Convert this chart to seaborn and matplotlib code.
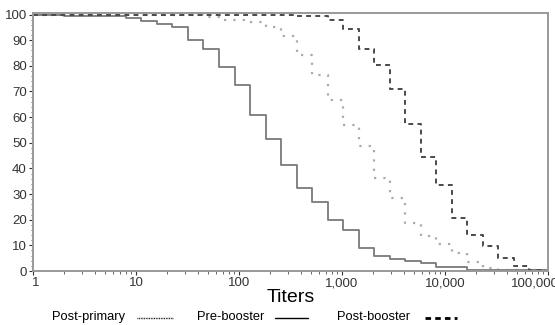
import matplotlib
matplotlib.use("Agg")
import matplotlib.pyplot as plt
import matplotlib.transforms as mtransforms
from matplotlib.lines import Line2D
from matplotlib.ticker import LogLocator, MultipleLocator, NullFormatter
import seaborn as sns
import pandas as pd

# ---- data ----
pre_x = [1, 2, 8, 11.3, 16, 22.6, 32, 45, 64, 90.5, 128, 181, 256, 362, 512, 724,
         1024, 1448, 2048, 2896, 4096, 5793, 8192, 16384, 100000]
pre_y = [100, 99.3, 98.6, 97.3, 96.2, 95.3, 90.2, 86.6, 79.5, 72.4, 60.9, 51.5, 41.5,
         32.4, 26.9, 20.0, 16.1, 8.8, 5.9, 4.6, 4.0, 3.2, 1.4, 0.4, 0.4]

prim_x = [1, 45, 64, 128, 181, 256, 362, 512, 724, 1024, 1448, 2048, 2896, 4096,
          5793, 8192, 11585, 16384, 23170, 32768, 100000]
prim_y = [100, 99.2, 97.7, 97.0, 95.3, 91.5, 84.4, 76.4, 66.6, 57.0, 48.6, 36.3, 28.5,
          18.9, 13.7, 10.5, 7.2, 3.4, 1.0, 0.5, 0.5]

post_x = [1, 362, 724, 1024, 1448, 2048, 2896, 4096, 5793, 8192, 11585, 16384, 23170,
          32768, 46341, 65536, 90000]
post_y = [100, 99.5, 97.7, 94.5, 86.6, 80.4, 70.8, 57.2, 44.6, 33.7, 20.8, 14.0, 9.7,
          4.9, 1.9, 0.4, 0.4]

series_names = ["Post-primary", "Pre-booster", "Post-booster"]
x_ticks = [1, 10, 100, 1000, 10000, 100000]
x_ticklabels = ["1", "10", "100", "1,000", "10,000", "100,000"]
y_ticks = list(range(0, 101, 10))

# ---- plot ----
sns.set_style("white")
plt.rcParams["font.family"] = ["Liberation Sans", "DejaVu Sans"]

W, H = 555, 325
fig = plt.figure(figsize=(W / 100, H / 100), dpi=100)
ax = fig.add_axes([33 / W, 1 - 271 / H, (548 - 33) / W, (271 - 13) / H])

styles = {
    "Post-primary": dict(color="#aaaaaa", linestyle=(0, (1, 3.2)), linewidth=1.6),
    "Pre-booster": dict(color="#7a7a7a", linestyle="-", linewidth=1.3),
    "Post-booster": dict(color="#4a4a4a", linestyle=(0, (2.5, 2.2)), linewidth=1.4),
}
data = {"Post-primary": (prim_x, prim_y), "Pre-booster": (pre_x, pre_y),
        "Post-booster": (post_x, post_y)}
for name in series_names:
    xs, ys = data[name]
    df = pd.DataFrame({"x": xs, "y": ys})
    sns.lineplot(data=df, x="x", y="y", ax=ax, estimator=None, sort=False,
                 drawstyle="steps-post", **styles[name])

ax.set_xscale("log")
ax.set_xlim(1, 100000)
ax.set_ylim(0, 100.6)
ax.set_xticks(x_ticks)
ax.set_xticklabels(x_ticklabels)
ax.xaxis.set_minor_locator(LogLocator(base=10, subs=range(2, 10)))
ax.xaxis.set_minor_formatter(NullFormatter())
ax.set_yticks(y_ticks)
ax.yaxis.set_minor_locator(MultipleLocator(2))
ax.tick_params(axis="both", which="major", labelsize=9.5, colors="#333333",
               length=3, width=0.8, direction="out", pad=1.5)
ax.tick_params(axis="both", which="minor", length=1.8, width=0.7, colors="#666666",
               direction="out")
ax.tick_params(axis="x", which="both", bottom=True)
ax.tick_params(axis="y", which="both", left=True)
for sp in ax.spines.values():
    sp.set_color("#999999")
    sp.set_linewidth(1.4)
    sp.set_visible(True)

# first / last x tick labels sit slightly inward as in the reference
labels = ax.get_xticklabels()
labels[0].set_transform(labels[0].get_transform() +
                        mtransforms.ScaledTranslation(2.5 / 100, 0, fig.dpi_scale_trans))
labels[-1].set_transform(labels[-1].get_transform() +
                         mtransforms.ScaledTranslation(-13 / 100, 0, fig.dpi_scale_trans))

ax.set_xlabel("Titers", fontsize=14, color="black", labelpad=0)
ax.set_ylabel("")

# ---- legend: label first, then line sample ----
leg_y = 1 - 317 / H
text_x = [52, 197, 337]
handle_x = [(137, 173), (275, 308), (425, 457)]
handle_styles = [
    dict(color="black", linestyle=(0, (0.6, 0.6)), linewidth=1.0),
    dict(color="black", linestyle="-", linewidth=1.0),
    dict(color="black", linestyle=(0, (2.0, 1.5)), linewidth=2.0),
]
for name, tx, (h0, h1), hs in zip(series_names, text_x, handle_x, handle_styles):
    fig.text(tx / W, leg_y, name, ha="left", va="center", fontsize=9.3, color="black")
    fig.add_artist(Line2D([h0 / W, h1 / W], [leg_y - 0.004, leg_y - 0.004],
                          transform=fig.transFigure, **hs))

fig.savefig("out.png", dpi=100)
